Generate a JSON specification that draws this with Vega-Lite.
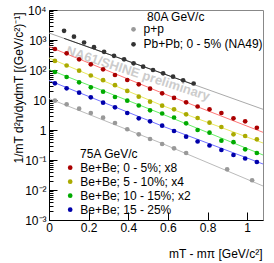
{
  "$schema": "https://vega.github.io/schema/vega-lite/v6.json",
  "width": 214,
  "height": 210,
  "autosize": {"type": "none"},
  "padding": {"left": 49, "top": 10, "right": 11, "bottom": 43},
  "background": "white",
  "config": {
    "font": "Liberation Sans",
    "view": {"stroke": "#888888", "strokeWidth": 1},
    "axis": {"grid": false, "domainColor": "black", "tickColor": "black", "labelColor": "black", "titleColor": "black", "labelFont": "Liberation Sans", "titleFont": "Liberation Sans", "labelFontSize": 12, "titleFontSize": 12, "titleFontWeight": "normal"},
    "legend": {"labelFont": "Liberation Sans", "titleFont": "Liberation Sans", "labelFontSize": 12, "titleFontSize": 12, "titleFontWeight": "normal", "labelColor": "black", "titleColor": "black", "padding": 0, "symbolSize": 22, "labelOffset": 4}
  },
  "datasets": {
    "bebe": [
      {"s": "Be+Be; 0 - 5%; x8", "x": 0.030, "y": 501},
      {"s": "Be+Be; 0 - 5%; x8", "x": 0.089, "y": 360},
      {"s": "Be+Be; 0 - 5%; x8", "x": 0.152, "y": 227},
      {"s": "Be+Be; 0 - 5%; x8", "x": 0.211, "y": 155},
      {"s": "Be+Be; 0 - 5%; x8", "x": 0.273, "y": 105},
      {"s": "Be+Be; 0 - 5%; x8", "x": 0.333, "y": 68.1},
      {"s": "Be+Be; 0 - 5%; x8", "x": 0.395, "y": 46.4},
      {"s": "Be+Be; 0 - 5%; x8", "x": 0.453, "y": 33.4},
      {"s": "Be+Be; 0 - 5%; x8", "x": 0.510, "y": 23.8},
      {"s": "Be+Be; 0 - 5%; x8", "x": 0.571, "y": 16.7},
      {"s": "Be+Be; 0 - 5%; x8", "x": 0.631, "y": 11.7},
      {"s": "Be+Be; 0 - 5%; x8", "x": 0.692, "y": 8.38},
      {"s": "Be+Be; 0 - 5%; x8", "x": 0.750, "y": 6.07},
      {"s": "Be+Be; 0 - 5%; x8", "x": 0.810, "y": 4.90},
      {"s": "Be+Be; 0 - 5%; x8", "x": 0.870, "y": 3.69},
      {"s": "Be+Be; 0 - 5%; x8", "x": 0.931, "y": 2.45},
      {"s": "Be+Be; 0 - 5%; x8", "x": 0.990, "y": 1.95},
      {"s": "Be+Be; 0 - 5%; x8", "x": 1.049, "y": 1.19},
      {"s": "Be+Be; 5 - 10%; x4", "x": 0.030, "y": 200},
      {"s": "Be+Be; 5 - 10%; x4", "x": 0.089, "y": 141},
      {"s": "Be+Be; 5 - 10%; x4", "x": 0.152, "y": 94.8},
      {"s": "Be+Be; 5 - 10%; x4", "x": 0.211, "y": 65.6},
      {"s": "Be+Be; 5 - 10%; x4", "x": 0.273, "y": 45.7},
      {"s": "Be+Be; 5 - 10%; x4", "x": 0.333, "y": 31.1},
      {"s": "Be+Be; 5 - 10%; x4", "x": 0.395, "y": 20.0},
      {"s": "Be+Be; 5 - 10%; x4", "x": 0.453, "y": 12.9},
      {"s": "Be+Be; 5 - 10%; x4", "x": 0.510, "y": 8.78},
      {"s": "Be+Be; 5 - 10%; x4", "x": 0.571, "y": 6.46},
      {"s": "Be+Be; 5 - 10%; x4", "x": 0.631, "y": 4.90},
      {"s": "Be+Be; 5 - 10%; x4", "x": 0.692, "y": 3.34},
      {"s": "Be+Be; 5 - 10%; x4", "x": 0.750, "y": 2.51},
      {"s": "Be+Be; 5 - 10%; x4", "x": 0.810, "y": 1.75},
      {"s": "Be+Be; 5 - 10%; x4", "x": 0.870, "y": 1.26},
      {"s": "Be+Be; 5 - 10%; x4", "x": 0.931, "y": 0.719},
      {"s": "Be+Be; 5 - 10%; x4", "x": 0.990, "y": 0.631},
      {"s": "Be+Be; 5 - 10%; x4", "x": 1.049, "y": 0.490},
      {"s": "Be+Be; 10 - 15%; x2", "x": 0.030, "y": 85.8},
      {"s": "Be+Be; 10 - 15%; x2", "x": 0.089, "y": 58.4},
      {"s": "Be+Be; 10 - 15%; x2", "x": 0.152, "y": 38.9},
      {"s": "Be+Be; 10 - 15%; x2", "x": 0.211, "y": 26.5},
      {"s": "Be+Be; 10 - 15%; x2", "x": 0.273, "y": 18.9},
      {"s": "Be+Be; 10 - 15%; x2", "x": 0.333, "y": 12.6},
      {"s": "Be+Be; 10 - 15%; x2", "x": 0.395, "y": 9.48},
      {"s": "Be+Be; 10 - 15%; x2", "x": 0.453, "y": 6.56},
      {"s": "Be+Be; 10 - 15%; x2", "x": 0.510, "y": 4.54},
      {"s": "Be+Be; 10 - 15%; x2", "x": 0.571, "y": 3.55},
      {"s": "Be+Be; 10 - 15%; x2", "x": 0.631, "y": 2.61},
      {"s": "Be+Be; 10 - 15%; x2", "x": 0.692, "y": 1.67},
      {"s": "Be+Be; 10 - 15%; x2", "x": 0.750, "y": 1.00},
      {"s": "Be+Be; 10 - 15%; x2", "x": 0.810, "y": 0.813},
      {"s": "Be+Be; 10 - 15%; x2", "x": 0.870, "y": 0.440},
      {"s": "Be+Be; 10 - 15%; x2", "x": 0.931, "y": 0.392},
      {"s": "Be+Be; 10 - 15%; x2", "x": 0.990, "y": 0.227},
      {"s": "Be+Be; 10 - 15%; x2", "x": 1.049, "y": 0.171},
      {"s": "Be+Be; 15 - 25%", "x": 0.030, "y": 36.0},
      {"s": "Be+Be; 15 - 25%", "x": 0.089, "y": 24.5},
      {"s": "Be+Be; 15 - 25%", "x": 0.152, "y": 17.5},
      {"s": "Be+Be; 15 - 25%", "x": 0.211, "y": 12.3},
      {"s": "Be+Be; 15 - 25%", "x": 0.273, "y": 8.13},
      {"s": "Be+Be; 15 - 25%", "x": 0.333, "y": 5.71},
      {"s": "Be+Be; 15 - 25%", "x": 0.395, "y": 3.69},
      {"s": "Be+Be; 15 - 25%", "x": 0.453, "y": 2.45},
      {"s": "Be+Be; 15 - 25%", "x": 0.510, "y": 1.95},
      {"s": "Be+Be; 15 - 25%", "x": 0.571, "y": 1.39},
      {"s": "Be+Be; 15 - 25%", "x": 0.631, "y": 0.926},
      {"s": "Be+Be; 15 - 25%", "x": 0.692, "y": 0.598},
      {"s": "Be+Be; 15 - 25%", "x": 0.750, "y": 0.414},
      {"s": "Be+Be; 15 - 25%", "x": 0.810, "y": 0.304},
      {"s": "Be+Be; 15 - 25%", "x": 0.870, "y": 0.215},
      {"s": "Be+Be; 15 - 25%", "x": 0.931, "y": 0.147},
      {"s": "Be+Be; 15 - 25%", "x": 0.990, "y": 0.112},
      {"s": "Be+Be; 15 - 25%", "x": 1.049, "y": 0.0858}
    ],
    "ref80": [
      {"s": "p+p", "x": 0.030, "y": 9.48},
      {"s": "p+p", "x": 0.089, "y": 7.19},
      {"s": "p+p", "x": 0.152, "y": 5.13},
      {"s": "p+p", "x": 0.211, "y": 3.69},
      {"s": "p+p", "x": 0.273, "y": 2.57},
      {"s": "p+p", "x": 0.333, "y": 1.71},
      {"s": "p+p", "x": 0.395, "y": 1.06},
      {"s": "p+p", "x": 0.453, "y": 0.719},
      {"s": "p+p", "x": 0.510, "y": 0.501},
      {"s": "p+p", "x": 0.571, "y": 0.341},
      {"s": "p+p", "x": 0.631, "y": 0.245},
      {"s": "p+p", "x": 0.692, "y": 0.171},
      {"s": "p+p", "x": 0.899, "y": 0.049},
      {"s": "p+p", "x": 1.025, "y": 0.0211},
      {"s": "Pb+Pb; 0 - 5% (NA49)", "x": 0.076, "y": 2027},
      {"s": "Pb+Pb; 0 - 5% (NA49)", "x": 0.126, "y": 1288},
      {"s": "Pb+Pb; 0 - 5% (NA49)", "x": 0.177, "y": 826},
      {"s": "Pb+Pb; 0 - 5% (NA49)", "x": 0.227, "y": 575},
      {"s": "Pb+Pb; 0 - 5% (NA49)", "x": 0.278, "y": 404},
      {"s": "Pb+Pb; 0 - 5% (NA49)", "x": 0.328, "y": 297},
      {"s": "Pb+Pb; 0 - 5% (NA49)", "x": 0.379, "y": 227},
      {"s": "Pb+Pb; 0 - 5% (NA49)", "x": 0.427, "y": 167},
      {"s": "Pb+Pb; 0 - 5% (NA49)", "x": 0.475, "y": 129},
      {"s": "Pb+Pb; 0 - 5% (NA49)", "x": 0.525, "y": 100},
      {"s": "Pb+Pb; 0 - 5% (NA49)", "x": 0.576, "y": 77.6},
      {"s": "Pb+Pb; 0 - 5% (NA49)", "x": 0.626, "y": 59.8},
      {"s": "Pb+Pb; 0 - 5% (NA49)", "x": 0.677, "y": 45.4},
      {"s": "Pb+Pb; 0 - 5% (NA49)", "x": 0.730, "y": 35.5}
    ],
    "fits": [
      {"s": "fit 0-5", "x": 0, "y": 598},
      {"s": "fit 0-5", "x": 0.571, "y": 17.1},
      {"s": "fit 0-5", "x": 1.08, "y": 0.838},
      {"s": "fit 5-10", "x": 0, "y": 251},
      {"s": "fit 5-10", "x": 0.571, "y": 6.56},
      {"s": "fit 5-10", "x": 1.08, "y": 0.369},
      {"s": "fit 10-15", "x": 0, "y": 104},
      {"s": "fit 10-15", "x": 0.571, "y": 3.41},
      {"s": "fit 10-15", "x": 1.08, "y": 0.147},
      {"s": "fit 15-25", "x": 0, "y": 44.7},
      {"s": "fit 15-25", "x": 0.571, "y": 1.36},
      {"s": "fit 15-25", "x": 1.08, "y": 0.0736},
      {"s": "fit pp", "x": 0, "y": 11.2},
      {"s": "fit pp", "x": 0.571, "y": 0.355},
      {"s": "fit pp", "x": 1.08, "y": 0.0136},
      {"s": "fit PbPb ext", "x": 0, "y": 1711},
      {"s": "fit PbPb ext", "x": 0.525, "y": 100},
      {"s": "fit PbPb ext", "x": 1.08, "y": 4.9},
      {"s": "fit PbPb", "x": 0.076, "y": 1132},
      {"s": "fit PbPb", "x": 0.525, "y": 100},
      {"s": "fit PbPb", "x": 0.73, "y": 32.7}
    ],
    "wm": [{"label": "NA61/SHINE preliminary"}],
    "t80": [{"label": "80A GeV/c"}],
    "t75": [{"label": "75A GeV/c"}]
  },
  "layer": [
    {
      "data": {"name": "wm"},
      "mark": {"type": "text", "angle": 18, "align": "center", "baseline": "middle", "fontSize": 13, "fontWeight": "bold", "font": "Liberation Sans", "color": "#cccccc"},
      "encoding": {
        "text": {"field": "label"},
        "x": {"datum": 0.449, "type": "quantitative", "scale": {"domain": [0, 1.08], "nice": false, "zero": false}},
        "y": {"datum": 75, "type": "quantitative", "scale": {"type": "log", "domain": [0.001, 10000], "nice": false}}
      }
    },
    {
      "data": {"name": "t80"},
      "mark": {"type": "text", "align": "left", "baseline": "middle", "fontSize": 12, "font": "Liberation Sans", "color": "black"},
      "encoding": {
        "text": {"field": "label"},
        "x": {"datum": 0.495, "type": "quantitative"},
        "y": {"datum": 6067, "type": "quantitative"}
      }
    },
    {
      "data": {"name": "t75"},
      "mark": {"type": "text", "align": "left", "baseline": "middle", "fontSize": 12, "font": "Liberation Sans", "color": "black"},
      "encoding": {
        "text": {"field": "label"},
        "x": {"datum": 0.157, "type": "quantitative"},
        "y": {"datum": 0.155, "type": "quantitative"}
      }
    },
    {
      "data": {"name": "fits"},
      "mark": {"type": "line", "strokeWidth": 1},
      "encoding": {
        "x": {"field": "x", "type": "quantitative", "scale": {"domain": [0, 1.08], "nice": false, "zero": false},
          "axis": {
            "values": [0, 0.05, 0.1, 0.15, 0.2, 0.25, 0.3, 0.35, 0.4, 0.45, 0.5, 0.55, 0.6, 0.65, 0.7, 0.75, 0.8, 0.85, 0.9, 0.95, 1, 1.05],
            "labelExpr": "abs(datum.value*5-round(datum.value*5))<0.001 ? format(datum.value,'~g') : ''",
            "tickSize": {"condition": {"test": "abs(datum.value*5-round(datum.value*5))<0.001", "value": -8}, "value": -4},
            "labelPadding": 10,
            "labelFlush": false,
            "labelOverlap": false,
            "title": "mT - mπ [GeV/c²]",
            "titleX": 213, "titleY": 33, "titleAlign": "right", "titleBaseline": "middle", "titleAnchor": null
          }},
        "y": {"field": "y", "type": "quantitative", "scale": {"type": "log", "domain": [0.001, 10000], "nice": false},
          "axis": {
            "values": [0.001, 0.002, 0.003, 0.004, 0.005, 0.006, 0.007, 0.008, 0.009, 0.01, 0.02, 0.03, 0.04, 0.05, 0.06, 0.07, 0.08, 0.09, 0.1, 0.2, 0.3, 0.4, 0.5, 0.6, 0.7, 0.8, 0.9, 1, 2, 3, 4, 5, 6, 7, 8, 9, 10, 20, 30, 40, 50, 60, 70, 80, 90, 100, 200, 300, 400, 500, 600, 700, 800, 900, 1000, 2000, 3000, 4000, 5000, 6000, 7000, 8000, 9000, 10000],
            "labelExpr": "datum.value==10000?'10⁴':datum.value==1000?'10³':datum.value==100?'10²':datum.value==10?'10':datum.value==1?'1':datum.value==0.1?'10⁻¹':datum.value==0.01?'10⁻²':datum.value==0.001?'10⁻³':''",
            "tickSize": {"condition": {"test": "indexof([0.001,0.01,0.1,1,10,100,1000,10000], datum.value) >= 0", "value": -8}, "value": -4},
            "labelPadding": 11,
            "labelFlush": false,
            "labelOverlap": false,
            "title": "1/mT d²n/dydmT [(GeV/c²)⁻¹]",
            "titleX": -31, "titleY": 2, "titleAngle": -90, "titleAlign": "right", "titleBaseline": "middle", "titleAnchor": null
          }},
        "detail": {"field": "s"},
        "color": {"field": "s", "type": "nominal", "legend": null,
          "scale": {"domain": ["fit 0-5", "fit 5-10", "fit 10-15", "fit 15-25", "fit pp", "fit PbPb ext", "fit PbPb"],
                    "range": ["#ff7777", "#e8e860", "#66ee66", "#7070ff", "#bbbbbb", "#aaaaaa", "#333333"]}}
      }
    },
    {
      "data": {"name": "ref80"},
      "mark": {"type": "point", "filled": true, "shape": "circle", "size": 22, "opacity": 1},
      "encoding": {
        "x": {"field": "x", "type": "quantitative"},
        "y": {"field": "y", "type": "quantitative"},
        "color": {"field": "s", "type": "nominal",
          "scale": {"domain": ["p+p", "Pb+Pb; 0 - 5% (NA49)"], "range": ["#999999", "#333333"]},
          "legend": {"orient": "none", "legendX": 78.5, "legendY": 13.3, "title": null, "rowPadding": 3, "symbolOpacity": 1}}
      }
    },
    {
      "data": {"name": "bebe"},
      "mark": {"type": "point", "filled": true, "shape": "circle", "size": 22, "opacity": 1},
      "encoding": {
        "x": {"field": "x", "type": "quantitative"},
        "y": {"field": "y", "type": "quantitative"},
        "color": {"field": "s", "type": "nominal",
          "scale": {"domain": ["Be+Be; 0 - 5%; x8", "Be+Be; 5 - 10%; x4", "Be+Be; 10 - 15%; x2", "Be+Be; 15 - 25%"], "range": ["#aa0000", "#aaaa00", "#00aa00", "#0000aa"]},
          "legend": {"orient": "none", "legendX": 15.2, "legendY": 151.7, "title": null, "rowPadding": 2, "symbolOpacity": 1}}
      }
    }
  ],
  "resolve": {"scale": {"color": "independent"}, "legend": {"color": "independent"}}
}
